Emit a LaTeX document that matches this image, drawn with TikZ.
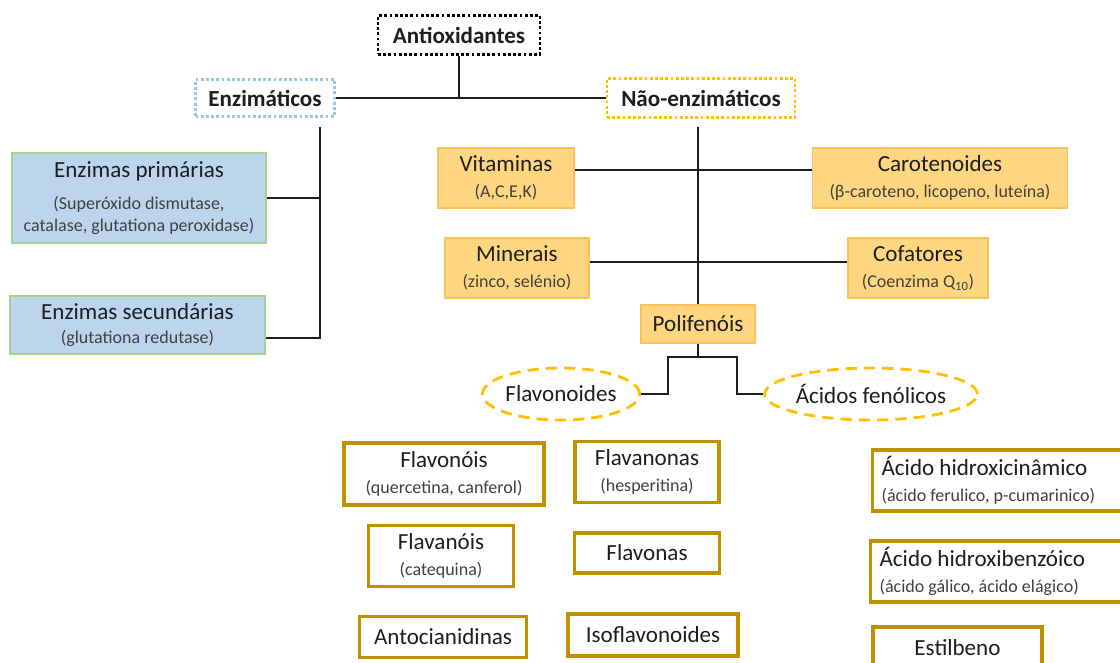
\documentclass[tikz,border=0pt]{standalone}
\usepackage{fontspec}
\setmainfont{Carlito}
\usepackage{tikz}
\usetikzlibrary{shapes.geometric, positioning}
\usepackage{xcolor}
\definecolor{ink}{RGB}{30,30,30}
\definecolor{subgray}{RGB}{64,64,64}
\definecolor{boxgold}{RGB}{255,214,128}
\definecolor{goldline}{RGB}{247,195,90}
\definecolor{enzblue}{RGB}{189,213,236}
\definecolor{enzgreen}{RGB}{169,209,142}
\definecolor{darkgold}{RGB}{191,144,0}
\definecolor{amber}{RGB}{255,192,0}
\definecolor{skyline}{RGB}{157,195,230}

\newcommand{\px}{0.025cm}
\newcommand{\ttlfont}{\fontsize{16.4}{18.4}\selectfont}
\newcommand{\subfont}{\fontsize{12.8}{15.6}\selectfont\color{subgray}}

\begin{document}
\begin{tikzpicture}[x=0.025cm, y=-0.025cm,
  every node/.style={font=\ttlfont, text=ink, inner sep=0pt, align=center},
  wh/.style 2 args={minimum width=#1*\px, minimum height=#2*\px},
  headbox/.style={draw=#1, line width=2pt, dash pattern=on 2pt off 1.7pt, font=\ttlfont\bfseries},
  goldbox/.style={fill=boxgold, draw=goldline, line width=1pt},
  bluebox/.style={fill=enzblue, draw=enzgreen, line width=1pt},
  classbox/.style={draw=darkgold, line width=2.3pt, fill=white},
  ringnode/.style={ellipse, draw=amber, line width=2pt, dash pattern=on 8pt off 5pt},
  link/.style={draw=ink, line width=2pt}]
  \useasboundingbox (0,0) rectangle (1120,663);
  \clip (0,0) rectangle (1120,663);
  \fill[white] (0,0) rectangle (1120,663);

  % top level
  \node[headbox=black, wh={162}{39}] (anti) at (459,35) {Antioxidantes};
  \node[headbox=skyline, wh={139}{37}] (enz) at (265,98) {Enzimáticos};
  \node[headbox=amber, wh={188}{39}] (nenz) at (701,98) {Não-enzimáticos};
  \draw[link] (enz.east) -- (nenz.west);
  \draw[link] (anti.south) -- (anti.south |- enz.east);

  % enzymatic branch
  \node[bluebox, wh={254}{90}] (prim) at (139,198)
    {Enzimas primárias\\[4.3pt]{\subfont (Superóxido dismutase,}\\[-2.8pt]{\subfont catalase, glutationa peroxidase)}};
  \node[bluebox, wh={255}{58}] (sec) at (137.5,325)
    {Enzimas secundárias\\[-0.7pt]{\subfont (glutationa redutase)}};
  \coordinate (enztrunk) at (320,127);
  \draw[link] (prim.east) -- (prim.east -| enztrunk);
  \draw[link] (enztrunk) |- ([yshift=-13*\px]sec.east);

  % non-enzymatic branch
  \node[goldbox, wh={136}{60}] (vit) at (506,178) {Vitaminas\\{\subfont (A,C,E,K)}};
  \node[goldbox, wh={255}{60}] (carot) at (940,178) {Carotenoides\\{\subfont (β-caroteno, licopeno, luteína)}};
  \node[goldbox, wh={144}{60}] (mine) at (517,268) {Minerais\\{\subfont (zinco, selénio)}};
  \node[goldbox, wh={140}{60}] (cofat) at (918,268) {Cofatores\\{\subfont (Coenzima Q\textsubscript{10})}};
  \node[goldbox, wh={114}{38}] (polif) at (698,324) {Polifenóis};
  \coordinate (nenztrunk) at (698,127);
  \draw[link] (nenztrunk) -- (polif.north);
  \draw[link] ([yshift=8*\px]vit.east) -- ([yshift=8*\px]carot.west);
  \draw[link] ([yshift=6*\px]mine.east) -- ([yshift=6*\px]cofat.west);

  % polyphenols
  \node[ringnode, wh={148}{52}] (flavo) at (561,394) {Flavonoides};
  \node[ringnode, wh={190}{52}] (acid) at (871,394) {Ácidos fenólicos};
  \coordinate (forkl) at (668,357);
  \coordinate (forkr) at (737,357);
  \draw[link] (polif.south) -- (polif.south |- forkl);
  \draw[link] (flavo.east) -| (forkl) -- (forkr) |- (acid.west);

  % flavonoid classes
  \node[classbox, wh={200}{62}] (flavonois) at (444,474) {Flavonóis\\{\subfont (quercetina, canferol)}};
  \node[classbox, wh={144}{61}] (flavanonas) at (647,472) {Flavanonas\\{\subfont (hesperitina)}};
  \node[classbox, wh={145}{61}] (flavanois) at (441,556) {Flavanóis\\{\subfont (catequina)}};
  \node[classbox, wh={145}{40}] (flavonas) at (647,553) {Flavonas};
  \node[classbox, wh={167}{41}] (antoc) at (443,637) {Antocianidinas};
  \node[classbox, wh={170}{42}] (isofl) at (653,635) {Isoflavonoides};

  % phenolic acid classes
  \node[classbox, anchor=west, inner xsep=9*\px, text width=272*\px, align=flush left, minimum height=61*\px] (hcin) at (871,480.5)
    {Ácido hidroxicinâmico\\{\subfont (ácido ferulico, p-cumarinico)}};
  \node[classbox, anchor=west, inner xsep=9*\px, text width=272*\px, align=flush left, minimum height=61*\px] (hbenz) at (869,571.5)
    {Ácido hidroxibenzóico\\{\subfont (ácido gálico, ácido elágico)}};
  \node[classbox, wh={169}{42}] (estil) at (957.5,648) {Estilbeno};
\end{tikzpicture}
\end{document}
